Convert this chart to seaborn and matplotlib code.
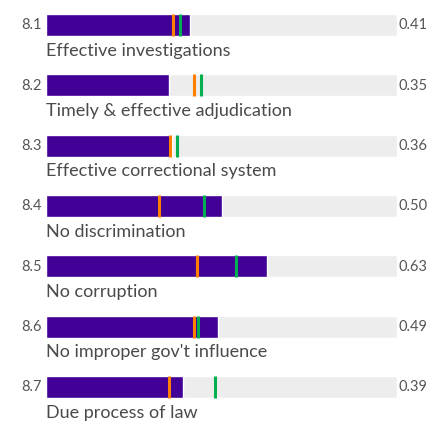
import pandas as pd
import matplotlib.pyplot as plt
import seaborn as sns

# Scores for factor 8 sub-factors
codes = ['8.1', '8.2', '8.3', '8.4', '8.5', '8.6', '8.7']
labels = ['Effective investigations', 'Timely & effective adjudication',
          'Effective correctional system', 'No discrimination', 'No corruption',
          "No improper gov't influence", 'Due process of law']
scores = [0.41, 0.35, 0.36, 0.50, 0.63, 0.49, 0.39]
regional_avg = [0.363, 0.423, 0.352, 0.323, 0.431, 0.423, 0.351]
income_avg = [0.383, 0.443, 0.372, 0.451, 0.542, 0.432, 0.482]

df = pd.DataFrame({'code': codes, 'label': labels, 'score': scores,
                   'regional': regional_avg, 'income': income_avg, 'full': 1.0})

purple = '#420097'
orange = '#FF7F00'
green = '#00B04F'
grey_bg = '#EDEDED'
text_col = '#555555'

sns.set_style('white')
plt.rcParams['font.family'] = ['Lato', 'DejaVu Sans']

W, H = 437, 421
fig = plt.figure(figsize=(W / 100, H / 100), dpi=100)
ax = fig.add_axes([46 / W, 0, 351 / W, 1])

bar_h = 0.365
sns.barplot(data=df, x='full', y='code', color=grey_bg, width=bar_h,
            orient='h', saturation=1, ax=ax)
sns.barplot(data=df, x='score', y='code', color=purple, width=bar_h,
            orient='h', saturation=1, ax=ax)

rows = range(len(df))
ax.vlines(df['regional'], [r - bar_h / 2 for r in rows], [r + bar_h / 2 for r in rows],
          color=orange, linewidth=2.2)
ax.vlines(df['income'], [r - bar_h / 2 for r in rows], [r + bar_h / 2 for r in rows],
          color=green, linewidth=2.2)

for r, row in df.iterrows():
    ax.text(-0.011, r + 0.072, row['code'], ha='right', va='baseline',
            fontsize=10.5, color=text_col, clip_on=False)
    ax.text(1.003, r + 0.072, f"{row['score']:.2f}", ha='left', va='baseline',
            fontsize=10.5, color=text_col, clip_on=False)
    ax.text(0.0, r + 0.506, row['label'], ha='left', va='baseline',
            fontsize=13, color='#4a4a4a', clip_on=False)

ax.set_xlim(0, 1)
ax.set_ylim(6.564, -0.414)
ax.axis('off')

plt.savefig('out.png', dpi=100)
